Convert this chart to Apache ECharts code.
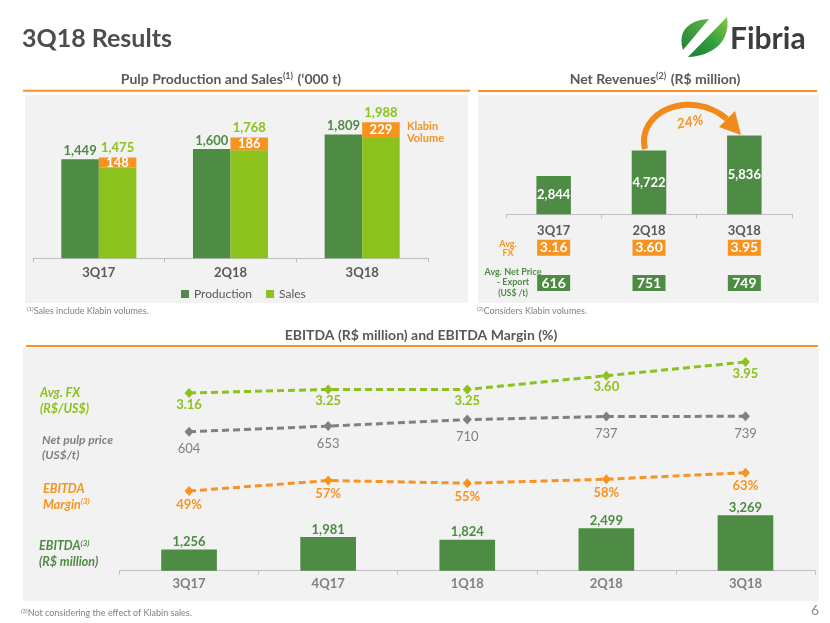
<!DOCTYPE html>
<html>
<head>
<meta charset="utf-8">
<script src="https://cdn.jsdelivr.net/npm/echarts@6/dist/echarts.min.js"></script>
<style>
html,body{margin:0;padding:0;background:#fff;}
#chart{width:830px;height:623px;}
</style>
</head>
<body>
<div id="chart"></div>
<script>
// ---- data ----
const pulpCategories = ['3Q17', '2Q18', '3Q18'];
const production = [1449, 1600, 1809];
const salesTotal = [1475, 1768, 1988];
const klabinVolume = [148, 186, 229];

const revCategories = ['3Q17', '2Q18', '3Q18'];
const netRevenues = [2844, 4722, 5836];
const revAvgFx = ['3.16', '3.60', '3.95'];
const revNetPriceExport = ['616', '751', '749'];

const ebitdaCategories = ['3Q17', '4Q17', '1Q18', '2Q18', '3Q18'];
const ebitda = [1256, 1981, 1824, 2499, 3269];
const ebitdaMargin = [49, 57, 55, 58, 63];
const avgFx = [3.16, 3.25, 3.25, 3.60, 3.95];
const netPulpPrice = [604, 653, 710, 737, 739];

// ---- styles ----
const GREEN = '#4e8b44';
const LIGHT = '#8cc21b';
const ORANGE = '#f7931e';
const GRAY = '#808080';
const TXT = '#595959';
const AXIS = '#bfbfbf';
const FONT = 'Lato, "Noto Sans", sans-serif';
const fmt = v => Number(v).toLocaleString('en-US');

const chart = echarts.init(document.getElementById('chart'), null, {renderer: 'canvas'});

function txt(text, x, y, o) {
  o = o || {};
  return {
    type: 'text', z: 5,
    style: {
      text: text, x: x, y: y,
      fill: o.fill || TXT,
      font: o.font || ('bold 13px ' + FONT),
      align: o.align || 'left',
      verticalAlign: o.va || 'middle'
    }
  };
}

function richText(text, x, y, rich, align, fill) {
  return {type: 'text', z: 5,
    style: {x: x, y: y, align: align || 'left', verticalAlign: 'middle', text: text, rich: rich, fill: fill || TXT}};
}

function supRich(size, color, italic) {
  const st = italic ? 'italic' : 'normal';
  return {
    t: {fontFamily: FONT, fontWeight: 'bold', fontStyle: st, fontSize: size, fill: color, color: color},
    s: {fontFamily: FONT, fontWeight: 'bold', fontStyle: st, fontSize: Math.round(size * 0.62), fill: color, color: color,
        padding: [0, 1, Math.round(size * 0.45), 0]}
  };
}

function footnote(num, text, x, y) {
  return richText('{s|(' + num + ')}{t|' + text + '}', x, y, {
    t: {fontFamily: FONT, fontSize: 9, fill: GRAY, color: GRAY},
    s: {fontFamily: FONT, fontSize: 6, fill: GRAY, color: GRAY, padding: [0, 0, 4, 0]}
  }, 'left', GRAY);
}

const leftGrad = new echarts.graphic.LinearGradient(0, 1, 1, 0, [
  {offset: 0, color: '#237f36'}, {offset: 1, color: '#5fb548'}]);
const rightGrad = new echarts.graphic.LinearGradient(0, 1, 1, 0, [
  {offset: 0, color: '#1b7a33'}, {offset: 0.5, color: '#33a040'}, {offset: 1, color: '#8cc63e'}]);

const graphics = [
  // panel backgrounds
  {type: 'rect', z: -10, shape: {x: 25, y: 95, width: 443, height: 208}, style: {fill: '#f2f2f2'}},
  {type: 'rect', z: -10, shape: {x: 478, y: 95, width: 341, height: 208}, style: {fill: '#f2f2f2'}},
  {type: 'rect', z: -10, shape: {x: 23, y: 348, width: 796, height: 253}, style: {fill: '#f2f2f2'}},
  // orange rules
  {type: 'line', z: 4, shape: {x1: 23, y1: 90.7, x2: 470, y2: 90.7}, style: {stroke: ORANGE, lineWidth: 2}},
  {type: 'line', z: 4, shape: {x1: 478, y1: 91, x2: 817, y2: 91}, style: {stroke: ORANGE, lineWidth: 2}},
  {type: 'line', z: 4, shape: {x1: 26, y1: 346, x2: 818, y2: 346}, style: {stroke: ORANGE, lineWidth: 2}},
  // main title
  txt('3Q18 Results', 22, 39, {font: 'bold 25px ' + FONT, fill: '#4d4d4d'}),
  // logo leaf: two blades
  {type: 'bezierCurve', z: 5, shape: {x1: 683, y1: 50, cpx1: 677, cpy1: 31, cpx2: 689, cpy2: 20, x2: 709, y2: 19},
   style: {fill: leftGrad, stroke: null}},
  {type: 'bezierCurve', z: 5, shape: {x1: 727, y1: 17, cpx1: 731, cpy1: 41, cpx2: 713, cpy2: 56, x2: 688, y2: 57},
   style: {fill: rightGrad, stroke: null}},
  txt('Fibria', 730, 39.5, {font: 'bold 30px ' + FONT, fill: '#3d3d3d'}),
  // panel titles
  richText('{t|Pulp Production and Sales}{s|(1)}{t| (\u2018000 t)}', 231, 79, supRich(14, TXT), 'center'),
  richText('{t|Net Revenues}{s|(2)}{t| (R$ million)}', 655, 79, supRich(14, TXT), 'center'),
  txt('EBITDA (R$ million) and EBITDA Margin (%)', 421, 335, {font: 'bold 14px ' + FONT, fill: TXT, align: 'center'}),
  // footnotes
  footnote(1, 'Sales include Klabin volumes.', 27, 311),
  footnote(2, 'Considers Klabin volumes.', 477, 311),
  footnote(3, 'Not considering the effect of Klabin sales.', 21, 613),
  txt('6', 815, 610, {font: '14px ' + FONT, fill: '#8c8c8c', align: 'center'}),
  // Klabin note
  txt('Klabin', 407, 126, {font: 'bold 11px ' + FONT, fill: ORANGE}),
  txt('Volume', 407, 138.5, {font: 'bold 11px ' + FONT, fill: ORANGE}),
  // revenue row labels
  txt('Avg.', 508, 244, {font: 'bold 9px ' + FONT, fill: ORANGE, align: 'center'}),
  txt('FX', 508, 253.5, {font: 'bold 9px ' + FONT, fill: ORANGE, align: 'center'}),
  txt('Avg. Net Price', 513, 272, {font: 'bold 9px ' + FONT, fill: GREEN, align: 'center'}),
  txt('- Export', 513, 282.5, {font: 'bold 9px ' + FONT, fill: GREEN, align: 'center'}),
  txt('(US$ /t)', 513, 293, {font: 'bold 8.5px ' + FONT, fill: GREEN, align: 'center'}),
  // growth arrow
  {type: 'bezierCurve', z: 6, shape: {x1: 645, y1: 149, cpx1: 636, cpy1: 112, cpx2: 690, cpy2: 88, x2: 727, y2: 119},
   style: {stroke: '#f08a1c', lineWidth: 6, fill: null}},
  {type: 'polygon', z: 6, shape: {points: [[741, 135], [719, 127], [735, 111]]}, style: {fill: '#f08a1c'}},
  {type: 'text', z: 6, x: 690, y: 122, rotation: 0.18,
   style: {text: '24%', x: 0, y: 0, align: 'center', verticalAlign: 'middle', fill: ORANGE, font: 'italic bold 14px ' + FONT}},
  // EBITDA left labels
  txt('Avg. FX', 40, 393, {font: 'italic bold 12.5px ' + FONT, fill: LIGHT}),
  txt('(R$/US$)', 40, 409, {font: 'italic bold 12.5px ' + FONT, fill: LIGHT}),
  txt('Net pulp price', 42, 440, {font: 'italic bold 12px ' + FONT, fill: GRAY}),
  txt('(US$/t)', 42, 455.5, {font: 'italic bold 12px ' + FONT, fill: GRAY}),
  txt('EBITDA', 43, 489, {font: 'italic bold 12.5px ' + FONT, fill: ORANGE}),
  richText('{t|Margin}{s|(3)}', 43, 504.5, supRich(12.5, ORANGE, true), 'left', ORANGE),
  richText('{t|EBITDA}{s|(3)}', 39, 546, supRich(12.5, GREEN, true), 'left', GREEN),
  txt('(R$ million)', 39, 561.5, {font: 'italic bold 12.5px ' + FONT, fill: GREEN})
];

const catAxisBase = {
  type: 'category',
  axisLine: {show: true, lineStyle: {color: AXIS, width: 1}},
  axisTick: {show: true, length: 4, lineStyle: {color: AXIS}},
  splitLine: {show: false}
};

const boxLabel = (bg) => ({
  color: '#fff', fontFamily: FONT, fontWeight: 'bold', fontSize: 14,
  backgroundColor: bg, width: 26, height: 16, lineHeight: 16, align: 'center',
  padding: [0, 3.5, 0, 3.5]
});

const option = {
  backgroundColor: '#ffffff',
  animation: false,
  textStyle: {fontFamily: FONT},
  graphic: graphics,
  grid: [
    {left: 33, right: 402, top: 98.3, bottom: 364.7},
    {left: 506, right: 38, top: 106.4, bottom: 408.7},
    {left: 119.5, right: 15, top: 350, bottom: 52.3}
  ],
  legend: {
    data: ['Production', 'Sales'],
    left: 176, top: 283,
    itemWidth: 8, itemHeight: 8, itemGap: 14, icon: 'rect',
    textStyle: {color: TXT, fontSize: 12, fontFamily: FONT}
  },
  xAxis: [
    Object.assign({}, catAxisBase, {gridIndex: 0, data: pulpCategories,
      axisLabel: {color: TXT, fontWeight: 'bold', fontSize: 13, margin: 8, fontFamily: FONT}}),
    Object.assign({}, catAxisBase, {gridIndex: 1, data: revCategories,
      axisLabel: {color: TXT, fontWeight: 'bold', fontSize: 13, margin: 10, fontFamily: FONT}}),
    {type: 'category', gridIndex: 1, position: 'bottom', data: revAvgFx,
      axisLine: {show: false}, axisTick: {show: false}, splitLine: {show: false},
      axisLabel: Object.assign({margin: 25.4, interval: 0}, boxLabel(ORANGE))},
    {type: 'category', gridIndex: 1, position: 'bottom', data: revNetPriceExport,
      axisLine: {show: false}, axisTick: {show: false}, splitLine: {show: false},
      axisLabel: Object.assign({margin: 60.7, interval: 0}, boxLabel(GREEN))},
    Object.assign({}, catAxisBase, {gridIndex: 2, data: ebitdaCategories,
      axisLabel: {color: GRAY, fontWeight: 'bold', fontSize: 13, margin: 7, fontFamily: FONT}})
  ],
  yAxis: [
    {type: 'value', gridIndex: 0, min: 0, max: 2340, show: false, splitLine: {show: false}},
    {type: 'value', gridIndex: 1, min: 0, max: 8000, show: false, splitLine: {show: false}},
    {type: 'value', gridIndex: 2, min: 0, max: 13000, show: false, splitLine: {show: false}},
    {type: 'value', gridIndex: 2, min: -1.369, max: 4.255, show: false, splitLine: {show: false}},
    {type: 'value', gridIndex: 2, min: -614, max: 1320, show: false, splitLine: {show: false}},
    {type: 'value', gridIndex: 2, min: -12, max: 156.9, show: false, splitLine: {show: false}}
  ],
  series: [
    // Pulp production & sales
    {type: 'bar', name: 'Production', xAxisIndex: 0, yAxisIndex: 0, data: production,
      barGap: '0%', barCategoryGap: '43%', itemStyle: {color: GREEN},
      label: {show: true, position: 'top', distance: 2, color: GREEN, fontWeight: 'bold', fontSize: 13, fontFamily: FONT,
        formatter: p => fmt(p.value)}},
    {type: 'bar', name: 'Sales', xAxisIndex: 0, yAxisIndex: 0, stack: 'sales',
      data: salesTotal.map((v, i) => v - klabinVolume[i]),
      barGap: '0%', barCategoryGap: '43%', itemStyle: {color: LIGHT}},
    {type: 'bar', name: 'Klabin Volume', xAxisIndex: 0, yAxisIndex: 0, stack: 'sales', data: klabinVolume,
      barGap: '0%', barCategoryGap: '43%', itemStyle: {color: ORANGE},
      label: {show: true, position: 'inside', color: '#fff', fontWeight: 'bold', fontSize: 13, fontFamily: FONT}},
    {type: 'bar', name: 'Sales total', xAxisIndex: 0, yAxisIndex: 0, stack: 'sales',
      data: salesTotal.map(() => 0),
      barGap: '0%', barCategoryGap: '43%', itemStyle: {color: 'transparent'},
      label: {show: true, position: 'top', distance: 3.5, color: LIGHT, fontWeight: 'bold', fontSize: 13, fontFamily: FONT,
        formatter: p => fmt(salesTotal[p.dataIndex])}},
    // Net revenues
    {type: 'bar', name: 'Net Revenues', xAxisIndex: 1, yAxisIndex: 1, data: netRevenues,
      barWidth: 34.5, itemStyle: {color: GREEN},
      label: {show: true, position: 'inside', color: '#fff', fontWeight: 'bold', fontSize: 13, fontFamily: FONT,
        formatter: p => fmt(p.value)}},
    // EBITDA
    {type: 'bar', name: 'EBITDA', xAxisIndex: 4, yAxisIndex: 2, data: ebitda,
      barCategoryGap: '60%', itemStyle: {color: GREEN},
      label: {show: true, position: 'top', distance: 1, color: GREEN, fontWeight: 'bold', fontSize: 13, fontFamily: FONT,
        formatter: p => fmt(p.value)}},
    {type: 'line', name: 'Avg. FX', xAxisIndex: 4, yAxisIndex: 3, data: avgFx,
      symbol: 'diamond', symbolSize: [9, 10], itemStyle: {color: LIGHT},
      lineStyle: {color: LIGHT, width: 3, type: [7, 4]},
      label: {show: true, position: 'bottom', distance: 0, color: LIGHT, fontWeight: 'bold', fontSize: 13, fontFamily: FONT,
        formatter: p => p.value.toFixed(2)}},
    {type: 'line', name: 'Net pulp price', xAxisIndex: 4, yAxisIndex: 4, data: netPulpPrice,
      symbol: 'diamond', symbolSize: [9, 10], itemStyle: {color: GRAY},
      lineStyle: {color: GRAY, width: 3, type: [7, 4]},
      label: {show: true, position: 'bottom', distance: 6, color: GRAY, fontSize: 13, fontFamily: FONT}},
    {type: 'line', name: 'EBITDA Margin', xAxisIndex: 4, yAxisIndex: 5, data: ebitdaMargin,
      symbol: 'diamond', symbolSize: [9, 10], itemStyle: {color: ORANGE},
      lineStyle: {color: ORANGE, width: 3, type: [7, 4]},
      label: {show: true, position: 'bottom', distance: 2, color: ORANGE, fontWeight: 'bold', fontSize: 13, fontFamily: FONT,
        formatter: p => p.value + '%'}}
  ]
};

chart.setOption(option);
</script>
</body>
</html>
